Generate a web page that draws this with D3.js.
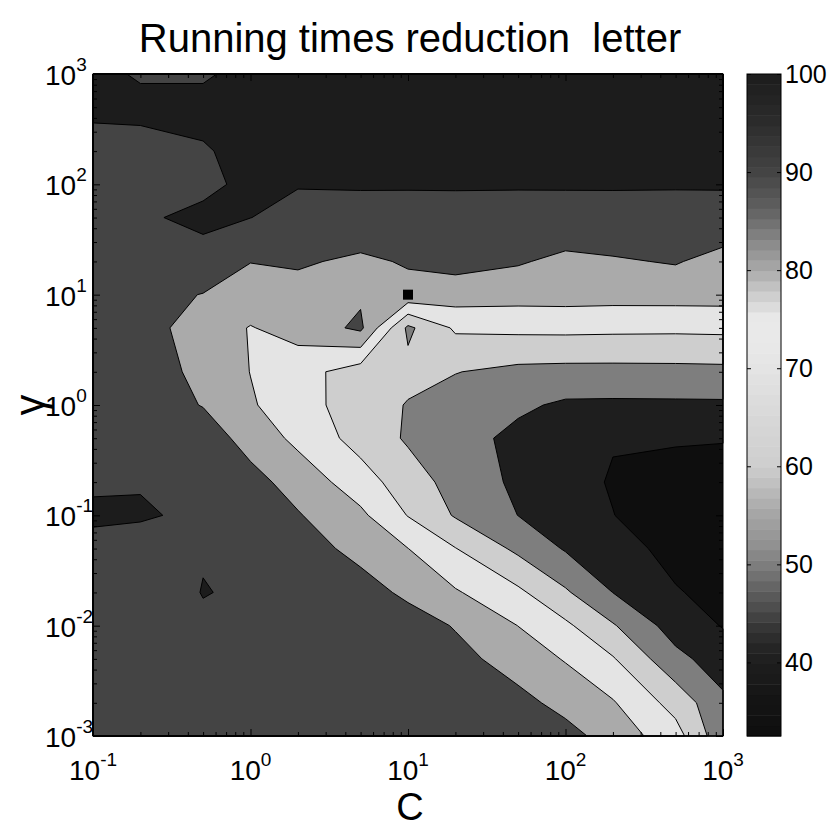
<!DOCTYPE html>
<html><head><meta charset="utf-8">
<script src="https://cdn.jsdelivr.net/npm/d3@7"></script>
<style>
body{margin:0;background:#fff}
text{font-family:"Liberation Sans",Arial,Helvetica,sans-serif;fill:#000}
</style>
</head><body>
<svg id="chart" width="830" height="830"></svg>
<script>
// ---------------- data ----------------
const cValues = [0.1, 0.2, 0.5, 1, 2, 5, 10, 20, 50, 100, 200, 500, 1000];
// rows from top (gamma = 1000) to bottom (gamma = 0.001)
const gammaValues = [1000, 500, 200, 100, 50, 20, 10, 5, 2, 1, 0.5, 0.2, 0.1, 0.05, 0.02, 0.01, 0.005, 0.002, 0.001];
const reduction = [
  [100, 99.3, 99.3, 100, 100, 100, 100, 100, 100, 100, 100, 100, 100],
  [100, 100, 100, 100, 100, 100, 100, 100, 100, 100, 100, 100, 100],
  [98.6, 98.8, 99.35, 100, 100, 100, 100, 100, 100, 100, 100, 100, 100],
  [97, 97, 99.0, 100, 100, 100, 100, 100, 100, 100, 100, 100, 100],
  [96, 99.2, 100, 99.6, 96.5, 97.3, 97.2, 97.4, 97.1, 97.2, 97.3, 97.0, 97.2],
  [95, 95, 98.7, 90.2, 91.2, 88.2, 90.9, 93.4, 90.9, 87.7, 89.0, 90.7, 86.5],
  [94, 94, 89.6, 86, 86.5, 88.4, 87, 85, 84, 84.2, 83.8, 84, 84.1],
  [95, 94, 85.5, 79.5, 84, 92, 58, 71.5, 72.3, 72.5, 72.2, 72, 72.3],
  [94, 94, 88, 79.8, 74, 65, 63, 60.3, 57.5, 57, 57, 57.2, 57.5],
  [95, 95, 89.6, 81.1, 73.9, 65.2, 59.4, 56.1, 51.7, 48.5, 48.3, 48.4, 48.5],
  [94, 95, 95, 86.4, 77.5, 66.2, 58.8, 53.9, 47.5, 44, 40.6, 41, 40.6],
  [99.1, 99.2, 95, 93.2, 86.2, 74.6, 64.6, 56.5, 48.0, 43.6, 39.2, 36, 35.5],
  [100, 100, 98.6, 95, 90.7, 82.0, 69.6, 59.1, 49.9, 45.1, 40.2, 34, 33],
  [98.6, 97.5, 98.9, 95, 95, 86.7, 80.1, 70.3, 57.8, 49.1, 43.9, 37, 32.5],
  [94, 93.8, 99.8, 98.4, 95, 94.5, 87.8, 81.0, 72.0, 61.3, 49.9, 40.7, 37],
  [94, 94, 98.1, 95, 95, 95, 95, 89.3, 79.9, 71.9, 60.9, 45.5, 39.5],
  [94, 94, 95, 94, 95, 94, 95, 93.3, 85.5, 79.3, 70.8, 52.8, 45],
  [95, 94, 94, 95, 94, 95, 94, 95, 93.0, 86.9, 80.8, 66.3, 52],
  [94, 95, 94, 94, 95, 94, 95, 94, 95, 93.4, 85.9, 74.0, 53]
];
const levels = [40, 50, 60, 70, 80, 90, 99.5];
const levelColorAt = [40, 50, 60, 70, 80, 90, 100];
const colorRange = [32.5, 100];
const colorbarTicks = [40, 50, 60, 70, 80, 90, 100];
const xMajor = [0.1, 1, 10, 100, 1000];
const yMajor = [0.001, 0.01, 0.1, 1, 10, 100, 1000];
const bestPoint = {C: 10, gamma: 10};
const titleText = "Running times reduction  letter";
// grey colormap (value -> grey level)
const cmapStops = [32.5, 36, 40, 41, 43, 45, 47, 50, 52, 55, 57, 60, 65, 70, 72, 75, 77, 80, 83, 85, 87, 90, 95, 100];
const cmapGray  = [14, 20, 30, 34, 48, 70, 92, 126, 145, 165, 182, 206, 216, 228, 232, 234, 212, 170, 135, 110, 90, 68, 44, 28];

// ---------------- layout ----------------
const P = {left: 93, right: 723, top: 74, bottom: 736};
const CB = {left: 747, right: 781};
const svg = d3.select("#chart");

const x = d3.scaleLog().domain([0.1, 1000]).range([P.left, P.right]);
const y = d3.scaleLog().domain([0.001, 1000]).range([P.bottom, P.top]);
const cy = d3.scaleLinear().domain(colorRange).range([P.bottom, P.top]);
const grayScale = d3.scaleLinear().domain(cmapStops).range(cmapGray).clamp(true);
const cmap = v => { const g = Math.round(grayScale(v)); return `rgb(${g},${g},${g})`; };

const logC = cValues.map(Math.log10);
const logG = gammaValues.map(Math.log10);
function interp(arr, f) {
  f = Math.max(0, Math.min(arr.length - 1, f));
  const i = Math.min(arr.length - 2, Math.floor(f));
  const t = f - i;
  return arr[i] + (arr[i + 1] - arr[i]) * t;
}
function project(p) {
  const lc = interp(logC, p[0] - 0.5);
  const lg = interp(logG, p[1] - 0.5);
  return [x(Math.pow(10, lc)), y(Math.pow(10, lg))];
}
const ringPath = ring => "M" + ring.map(p => project(p).map(v => v.toFixed(2)).join(",")).join("L") + "Z";
const mpPath = mp => mp.coordinates.map(poly => poly.map(ringPath).join("")).join("");

const contours = d3.contours()
  .size([cValues.length, gammaValues.length])
  .thresholds(levels)
  .smooth(true)(reduction.flat());

// base (below lowest level)
svg.append("rect").attr("x", P.left).attr("y", P.top)
  .attr("width", P.right - P.left).attr("height", P.bottom - P.top)
  .attr("fill", cmap(colorRange[0]));

const gFill = svg.append("g");
gFill.selectAll("path").data(contours).join("path")
  .attr("d", mpPath)
  .attr("fill-rule", "evenodd")
  .attr("fill", (d, i) => cmap(levelColorAt[i]))
  .attr("stroke", "none");

const gLines = svg.append("g");
gLines.selectAll("path").data(contours).join("path")
  .attr("d", mpPath)
  .attr("fill", "none")
  .attr("stroke", "#000")
  .attr("stroke-width", 1)
  .attr("stroke-linejoin", "round");

// best point marker
svg.append("rect")
  .attr("x", x(bestPoint.C) - 5).attr("y", y(bestPoint.gamma) - 5)
  .attr("width", 10).attr("height", 10).attr("fill", "#000");

// ---------------- axes ----------------
const xMinor = [], yMinor = [];
for (let k = -1; k < 3; k++) for (let m = 2; m < 10; m++) xMinor.push(m * Math.pow(10, k));
for (let k = -3; k < 3; k++) for (let m = 2; m < 10; m++) yMinor.push(m * Math.pow(10, k));

function tickAxis(axis, tx, ty) {
  const g = svg.append("g").attr("transform", `translate(${tx},${ty})`).call(axis);
  g.select(".domain").remove();
  g.selectAll("line").attr("stroke", "#000").attr("stroke-width", 1);
  g.selectAll("text").remove();
  return g;
}
tickAxis(d3.axisBottom(x).tickValues(xMajor).tickSize(-7).tickFormat(""), 0, P.bottom);
tickAxis(d3.axisBottom(x).tickValues(xMinor).tickSize(-4).tickFormat(""), 0, P.bottom);
tickAxis(d3.axisTop(x).tickValues(xMajor).tickSize(-7).tickFormat(""), 0, P.top);
tickAxis(d3.axisTop(x).tickValues(xMinor).tickSize(-4).tickFormat(""), 0, P.top);
tickAxis(d3.axisLeft(y).tickValues(yMajor).tickSize(-7).tickFormat(""), P.left, 0);
tickAxis(d3.axisLeft(y).tickValues(yMinor).tickSize(-4).tickFormat(""), P.left, 0);
tickAxis(d3.axisRight(y).tickValues(yMajor).tickSize(-7).tickFormat(""), P.right, 0);
tickAxis(d3.axisRight(y).tickValues(yMinor).tickSize(-4).tickFormat(""), P.right, 0);

// frame
svg.append("rect").attr("x", P.left).attr("y", P.top)
  .attr("width", P.right - P.left).attr("height", P.bottom - P.top)
  .attr("fill", "none").attr("stroke", "#000").attr("stroke-width", 1);

function powLabel(sel, d) {
  const e = Math.round(Math.log10(d));
  sel.append("tspan").text("10");
  sel.append("tspan").attr("font-size", 19).attr("dy", -14).text(String(e));
}
svg.append("g").selectAll("text").data(xMajor).join("text")
  .attr("x", d => x(d)).attr("y", 780)
  .attr("text-anchor", "middle").attr("font-size", 28)
  .each(function(d) { powLabel(d3.select(this), d); });
svg.append("g").selectAll("text").data(yMajor).join("text")
  .attr("x", 45).attr("y", d => y(d) + 11)
  .attr("text-anchor", "start").attr("font-size", 28)
  .each(function(d) { powLabel(d3.select(this), d); });

// ---------------- colorbar ----------------
const nColors = 64;
const step = (colorRange[1] - colorRange[0]) / nColors;
const cbData = d3.range(nColors).map(k => colorRange[0] + k * step);
svg.append("g").selectAll("rect").data(cbData).join("rect")
  .attr("x", CB.left).attr("width", CB.right - CB.left)
  .attr("y", d => cy(d + step)).attr("height", d => cy(d) - cy(d + step) + 0.5)
  .attr("fill", d => cmap(d + step / 2));
tickAxis(d3.axisLeft(cy).tickValues(colorbarTicks).tickSize(-4).tickFormat(""), CB.left, 0);
tickAxis(d3.axisRight(cy).tickValues(colorbarTicks).tickSize(-4).tickFormat(""), CB.right, 0);
svg.append("rect").attr("x", CB.left).attr("y", P.top)
  .attr("width", CB.right - CB.left).attr("height", P.bottom - P.top)
  .attr("fill", "none").attr("stroke", "#000").attr("stroke-width", 1);
svg.append("g").selectAll("text").data(colorbarTicks).join("text")
  .attr("x", 785).attr("y", d => cy(d) + 9)
  .attr("font-size", 25).text(d => d);

// ---------------- titles ----------------
svg.append("text").attr("x", 410).attr("y", 52).attr("text-anchor", "middle")
  .attr("font-size", 40).style("white-space", "pre").text(titleText);
svg.append("text").attr("x", 410).attr("y", 820).attr("text-anchor", "middle")
  .attr("font-size", 38).text("C");
svg.append("text").attr("transform", "translate(44,405) rotate(-90)")
  .attr("text-anchor", "middle").attr("font-size", 42).text("γ");
</script>
</body></html>
